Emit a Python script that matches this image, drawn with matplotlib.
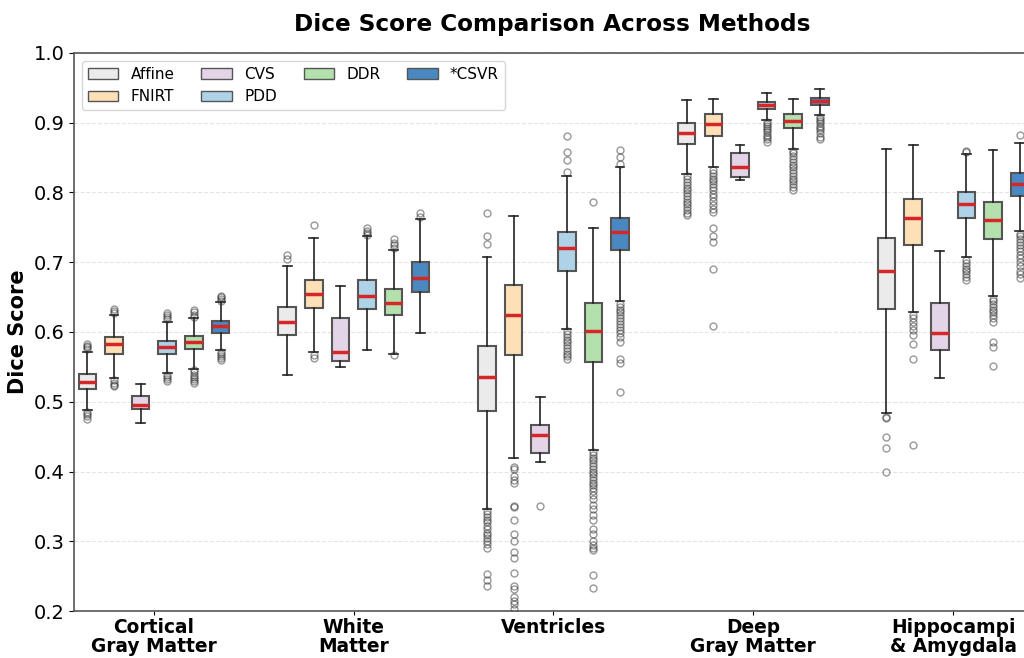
import numpy as np
import matplotlib
matplotlib.use("Agg")
import matplotlib.pyplot as plt
import matplotlib.patches as mpatches

regions = ["Cortical\nGray Matter", "White\nMatter", "Ventricles", "Deep\nGray Matter", "Hippocampi\n& Amygdala"]
methods = ["Affine", "FNIRT", "CVS", "PDD", "DDR", "*CSVR"]
colors = ["#ebebeb", "#fde0b6", "#e4d4e8", "#aed3e8", "#b3e0ac", "#4a88c2"]

# per region, per method (Affine, FNIRT, CVS, PDD, DDR, *CSVR)
q1 = [
    [0.518, 0.569, 0.489, 0.568, 0.576, 0.599],
    [0.595, 0.634, 0.558, 0.633, 0.625, 0.658],
    [0.487, 0.567, 0.427, 0.687, 0.557, 0.717],
    [0.869, 0.881, 0.822, 0.919, 0.892, 0.926],
    [0.633, 0.725, 0.574, 0.763, 0.733, 0.795],
]
med = [
    [0.529, 0.583, 0.495, 0.578, 0.585, 0.608],
    [0.615, 0.655, 0.571, 0.652, 0.642, 0.677],
    [0.535, 0.624, 0.453, 0.720, 0.601, 0.743],
    [0.885, 0.898, 0.836, 0.925, 0.903, 0.931],
    [0.688, 0.764, 0.599, 0.783, 0.761, 0.812],
]
q3 = [
    [0.540, 0.593, 0.508, 0.587, 0.594, 0.616],
    [0.636, 0.675, 0.620, 0.675, 0.662, 0.700],
    [0.580, 0.667, 0.466, 0.743, 0.641, 0.764],
    [0.899, 0.912, 0.856, 0.930, 0.912, 0.936],
    [0.735, 0.791, 0.642, 0.800, 0.786, 0.828],
]
whislo = [
    [0.488, 0.534, 0.469, 0.541, 0.547, 0.574],
    [0.539, 0.572, 0.550, 0.574, 0.569, 0.599],
    [0.346, 0.419, 0.413, 0.605, 0.431, 0.644],
    [0.826, 0.836, 0.818, 0.904, 0.863, 0.911],
    [0.484, 0.629, 0.534, 0.707, 0.652, 0.745],
]
whishi = [
    [0.572, 0.624, 0.525, 0.615, 0.620, 0.643],
    [0.695, 0.735, 0.666, 0.737, 0.717, 0.762],
    [0.707, 0.767, 0.507, 0.824, 0.749, 0.836],
    [0.932, 0.934, 0.868, 0.943, 0.934, 0.948],
    [0.863, 0.868, 0.716, 0.855, 0.861, 0.871],
]
fliers = [
    [
        [0.575, 0.578, 0.580, 0.583, 0.485, 0.482, 0.479, 0.475],
        [0.627, 0.630, 0.633, 0.531, 0.527, 0.524, 0.522],
        [],
        [0.618, 0.621, 0.624, 0.627, 0.538, 0.535, 0.532, 0.530],
        [0.622, 0.625, 0.628, 0.632, 0.545, 0.542, 0.539, 0.536, 0.533, 0.530, 0.527],
        [0.645, 0.647, 0.650, 0.652, 0.572, 0.569, 0.566, 0.563, 0.560],
    ],
    [
        [0.704, 0.711],
        [0.754, 0.567, 0.563],
        [],
        [0.739, 0.742, 0.745, 0.749],
        [0.720, 0.724, 0.728, 0.733, 0.567],
        [0.765, 0.771],
    ],
    [
        [0.726, 0.737, 0.771, 0.343, 0.339, 0.335, 0.331, 0.327, 0.322, 0.317,
         0.312, 0.309, 0.305, 0.300, 0.296, 0.291, 0.253, 0.245, 0.236],
        [0.406, 0.404, 0.393, 0.388, 0.384, 0.350, 0.349, 0.330, 0.310, 0.300,
         0.284, 0.276, 0.254, 0.236, 0.231, 0.220, 0.215, 0.210, 0.203],
        [0.350],
        [0.829, 0.847, 0.858, 0.881, 0.601, 0.597, 0.593, 0.589, 0.585, 0.581,
         0.577, 0.573, 0.569, 0.565, 0.561],
        [0.787, 0.428, 0.424, 0.420, 0.416, 0.412, 0.408, 0.404, 0.400, 0.396,
         0.392, 0.388, 0.384, 0.380, 0.376, 0.372, 0.366, 0.360, 0.352, 0.346,
         0.338, 0.330, 0.318, 0.310, 0.300, 0.295, 0.290, 0.287, 0.252, 0.233],
        [0.841, 0.851, 0.861, 0.640, 0.636, 0.632, 0.628, 0.624, 0.620, 0.616,
         0.612, 0.607, 0.603, 0.598, 0.593, 0.586, 0.562, 0.555, 0.514],
    ],
    [
        [0.823, 0.819, 0.815, 0.811, 0.807, 0.803, 0.799, 0.795, 0.791, 0.787,
         0.783, 0.779, 0.775, 0.771, 0.768],
        [0.832, 0.828, 0.824, 0.820, 0.816, 0.812, 0.808, 0.803, 0.798, 0.793,
         0.788, 0.782, 0.777, 0.772, 0.749, 0.738, 0.729, 0.691, 0.609],
        [],
        [0.901, 0.898, 0.895, 0.892, 0.889, 0.886, 0.883, 0.879, 0.876, 0.873],
        [0.860, 0.856, 0.852, 0.848, 0.844, 0.840, 0.836, 0.832, 0.828, 0.824,
         0.820, 0.816, 0.812, 0.808, 0.804],
        [0.908, 0.905, 0.902, 0.899, 0.896, 0.893, 0.889, 0.885, 0.880, 0.876],
    ],
    [
        [0.478, 0.476, 0.449, 0.433, 0.399],
        [0.624, 0.620, 0.614, 0.608, 0.603, 0.595, 0.583, 0.561, 0.438],
        [],
        [0.858, 0.860, 0.703, 0.699, 0.695, 0.691, 0.687, 0.683, 0.679, 0.675],
        [0.648, 0.644, 0.640, 0.636, 0.632, 0.628, 0.624, 0.620, 0.615, 0.586,
         0.578, 0.551],
        [0.883, 0.741, 0.737, 0.733, 0.729, 0.725, 0.721, 0.716, 0.711, 0.706,
         0.700, 0.694, 0.688, 0.683, 0.678],
    ],
]

fig = plt.figure(figsize=(10.24, 6.58), dpi=100)
ax = fig.add_axes([0.0723, 0.0714, 0.9345, 0.8481])

step = 0.1333
width = 0.088
for g in range(len(regions)):
    for m in range(len(methods)):
        stats = [{
            "med": med[g][m], "q1": q1[g][m], "q3": q3[g][m],
            "whislo": whislo[g][m], "whishi": whishi[g][m],
            "fliers": fliers[g][m],
        }]
        pos = g + (m - 2.5) * step
        ax.bxp(stats, positions=[pos], widths=width, patch_artist=True,
               manage_ticks=False,
               boxprops=dict(facecolor=colors[m], edgecolor="#555555", linewidth=1.5),
               medianprops=dict(color="#d62728", linewidth=2.5),
               whiskerprops=dict(color="#222222", linewidth=1.2),
               capprops=dict(color="#222222", linewidth=1.2),
               flierprops=dict(marker="o", markerfacecolor="none",
                               markeredgecolor="#333333", markersize=5, alpha=0.5))

ax.set_xlim(-0.4, 4.39)
ax.set_ylim(0.2, 1.0)
ax.set_xticks(range(len(regions)))
ax.set_xticklabels(regions, fontsize=13.4, fontweight="bold", linespacing=1.0)
ax.set_yticks(np.arange(0.2, 1.01, 0.1))
ax.set_yticklabels(["%.1f" % v for v in np.arange(0.2, 1.01, 0.1)], fontsize=14)
ax.tick_params(axis="x", pad=2, length=3)
ax.grid(axis="y", linestyle="--", color="#cccccc", alpha=0.5, linewidth=0.8)
ax.set_axisbelow(True)
for s in ax.spines.values():
    s.set_color("#555555")
    s.set_linewidth(1.2)

ax.set_ylabel("Dice Score", fontsize=15, fontweight="bold")
ax.set_title("Dice Score Comparison Across Methods", fontsize=16.7, fontweight="bold", pad=16)

handles = [mpatches.Patch(facecolor=c, edgecolor="#555555", label=l) for c, l in zip(colors, methods)]
ax.legend(handles=handles, loc="upper left", ncol=4, fontsize=11, frameon=True,
          handlelength=2.0, columnspacing=1.75, borderaxespad=0.5)

fig.savefig("out.png", dpi=100)
